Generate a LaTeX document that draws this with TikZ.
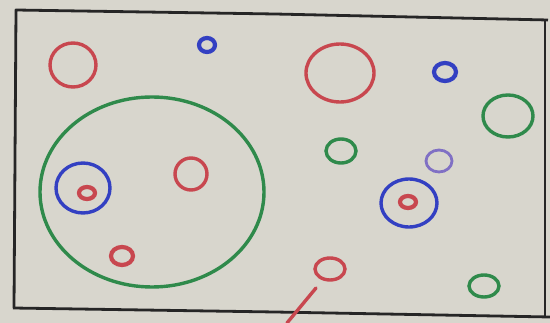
\documentclass[tikz,border=0pt]{standalone}
\begin{document}
\begin{tikzpicture}[x=1pt,y=-1pt,
  ring/.style={line width=3.4pt},
  dotring/.style={line width=4.2pt},
  thinring/.style={line width=2.8pt},
  frame/.style={line width=2.8pt, draw=black!85, line join=round}]
\definecolor{board}{HTML}{D8D6CD}
\definecolor{mred}{HTML}{C8474F}
\definecolor{mblue}{HTML}{3340C2}
\definecolor{mgreen}{HTML}{2F8A4B}
\definecolor{mpurple}{HTML}{8070C4}
\useasboundingbox (0,0) rectangle (550,323);
\fill[board] (0,0) rectangle (550,323);
% frame
\draw[frame] (14,308) -- (16,10) -- (275,14) -- (548,20);
\draw[frame, line width=2.2pt] (545,20) -- (545,316);
\draw[frame] (13,308) -- (275,312) -- (550,317);
% left region
\draw[ring, mred] (73,65) ellipse [x radius=23, y radius=22];
\draw[dotring, mblue] (207,45) ellipse [x radius=8, y radius=7];
\draw[ring, mgreen] (152,192) ellipse [x radius=112, y radius=95];
\draw[ring, mblue] (83,188) ellipse [x radius=27, y radius=25];
\draw[dotring, mred] (87,193) ellipse [x radius=8, y radius=6];
\draw[ring, mred] (191,174) ellipse [x radius=16, y radius=16];
\draw[dotring, mred] (122,256) ellipse [x radius=11, y radius=9];
% right region
\draw[ring, mred] (340,73) ellipse [x radius=34, y radius=29];
\draw[dotring, mblue] (445,72) ellipse [x radius=11, y radius=9];
\draw[ring, mgreen] (508,116) ellipse [x radius=25, y radius=21];
\draw[ring, mgreen] (341,151) ellipse [x radius=15, y radius=12];
\draw[thinring, mpurple] (439,161) ellipse [x radius=13, y radius=11];
\draw[ring, mblue] (409,203) ellipse [x radius=28, y radius=24];
\draw[dotring, mred] (408,202) ellipse [x radius=8, y radius=6];
\draw[ring, mred] (330,269) ellipse [x radius=15, y radius=11];
\draw[ring, mgreen] (484,286) ellipse [x radius=15, y radius=11];
\draw[line width=3.4pt, mred, line cap=round] (316,288) -- (287,323);
\end{tikzpicture}
\end{document}
